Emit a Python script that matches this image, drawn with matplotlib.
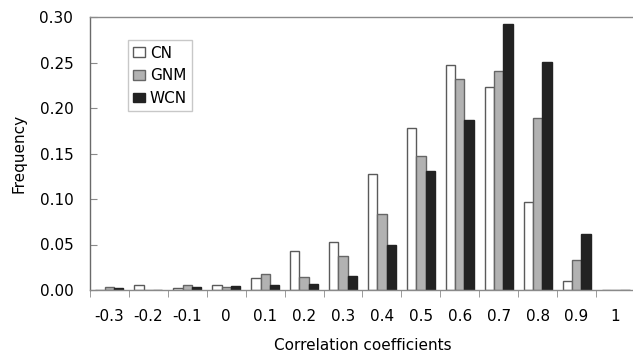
import matplotlib

matplotlib.use("Agg")

import matplotlib.pyplot as plt
import numpy as np

plt.rcParams["font.family"] = ["DejaVu Sans"]

categories = ["-0.3", "-0.2", "-0.1", "0", "0.1", "0.2", "0.3",
              "0.4", "0.5", "0.6", "0.7", "0.8", "0.9", "1"]
cn = [0.000, 0.005, 0.002, 0.006, 0.013, 0.043, 0.053,
      0.128, 0.178, 0.247, 0.223, 0.097, 0.010, 0.000]
gnm = [0.003, 0.000, 0.006, 0.003, 0.018, 0.014, 0.037,
       0.083, 0.147, 0.232, 0.241, 0.189, 0.033, 0.000]
wcn = [0.002, 0.000, 0.003, 0.004, 0.006, 0.007, 0.015,
       0.049, 0.131, 0.187, 0.292, 0.251, 0.062, 0.000]
series_names = ["CN", "GNM", "WCN"]

SPINE = "#8a8a8a"
FS = 11

fig = plt.figure(figsize=(6.33, 3.53), dpi=100)
ax = fig.add_axes((90 / 633, 63 / 353, 545 / 633, 273 / 353))

x = np.arange(len(categories))
w = 0.24
styles = [
    ("white", "#5a5a5a"),
    ("#b2b2b2", "#666666"),
    ("#222222", "#222222"),
]
for offset, values, name, (face, edge) in zip((-w, 0, w), (cn, gnm, wcn),
                                              series_names, styles):
    ax.bar(x + offset, values, width=w, color=face, edgecolor=edge,
           linewidth=1.0, label=name)

ax.set_xlim(-0.5, len(categories) - 0.5)
ax.set_ylim(0, 0.30)
yticks = np.arange(0, 0.31, 0.05)
ax.set_yticks(yticks)
ax.set_yticklabels([f"{v:.2f}" for v in yticks])

ax.set_xticks(x)
ax.set_xticklabels(categories)
ax.set_xticks(np.arange(-0.5, len(categories), 1.0), minor=True)
ax.tick_params(axis="x", which="major", length=0, labelsize=FS, pad=14)
ax.tick_params(axis="x", which="minor", length=5, color=SPINE, direction="out")
ax.tick_params(axis="y", which="major", length=5, color=SPINE,
               direction="in", labelsize=FS, pad=12)

for side in ("left", "bottom", "top"):
    ax.spines[side].set_color(SPINE)
    ax.spines[side].set_linewidth(1.0)
ax.spines["left"].set_color("#6a6a6a")
ax.spines["right"].set_visible(False)

ax.set_xlabel("Correlation coefficients", fontsize=FS, labelpad=10)
ax.set_ylabel("Frequency", fontsize=FS, labelpad=9)

leg = ax.legend(loc="upper left", bbox_to_anchor=(0.069, 0.915), fontsize=FS,
                frameon=True, fancybox=False, handlelength=0.8,
                handleheight=0.6, handletextpad=0.3, labelspacing=0.5,
                borderpad=0.35, borderaxespad=0)
leg.get_frame().set_edgecolor("#bbbbbb")
leg.get_frame().set_linewidth(1.0)

fig.savefig("out.png", dpi=100)
